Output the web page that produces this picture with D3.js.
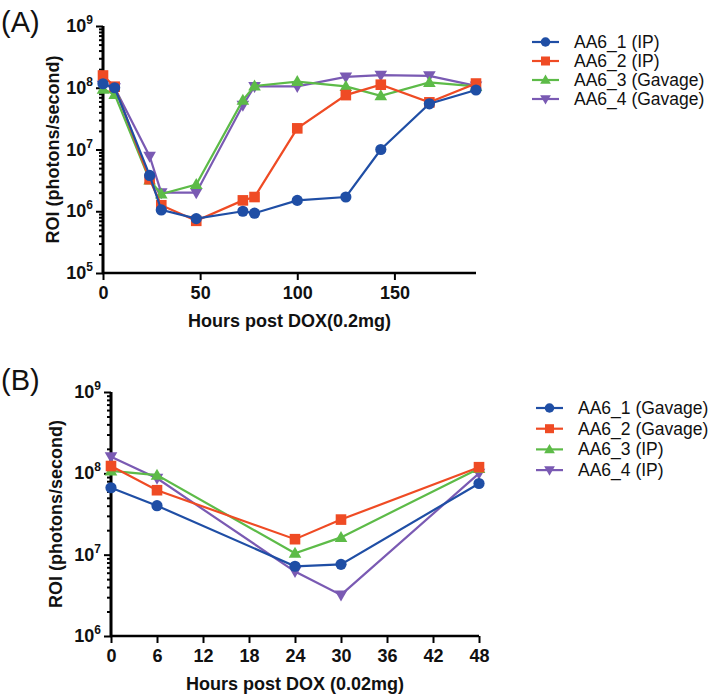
<!DOCTYPE html>
<html><head><meta charset="utf-8">
<script src="https://cdn.jsdelivr.net/npm/d3@7"></script>
<style>body{margin:0;background:#fff}svg{display:block}text{font-family:"Liberation Sans",Arial,sans-serif}</style>
</head><body><svg id="c" width="709" height="697"></svg>
<script>
// ---------- data ----------
const hoursA = [0, 6, 24, 30, 48, 72, 78, 100, 125, 143, 168, 192];
const seriesNamesA = ["AA6_1 (IP)", "AA6_2 (IP)", "AA6_3 (Gavage)", "AA6_4 (Gavage)"];
const A1 = [1.16e8, 1.0e8, 3.8e6, 1.05e6, 7.6e5, 1.0e6, 9.3e5, 1.5e6, 1.7e6, 1.0e7, 5.5e7, 9.2e7];
const A2 = [1.58e8, 1.04e8, 3.3e6, 1.25e6, 7.0e5, 1.5e6, 1.7e6, 2.2e7, 7.6e7, 1.12e8, 5.8e7, 1.17e8];
const A3 = [9.5e7, 7.8e7, 3.2e6, 1.9e6, 2.7e6, 6.3e7, 1.07e8, 1.26e8, 1.05e8, 7.4e7, 1.22e8, 1.05e8];
const A4 = [1.1e8, 1.0e8, 7.8e6, 2.0e6, 2.0e6, 5.2e7, 1.05e8, 1.05e8, 1.5e8, 1.6e8, 1.56e8, 1.07e8];
const xTicksA = [0, 50, 100, 150];

const hoursB = [0, 6, 24, 30, 48];
const seriesNamesB = ["AA6_1 (Gavage)", "AA6_2 (Gavage)", "AA6_3 (IP)", "AA6_4 (IP)"];
const B1 = [6.65e7, 4.0e7, 7.2e6, 7.6e6, 7.5e7];
const B2 = [1.23e8, 6.2e7, 1.55e7, 2.7e7, 1.19e8];
const B3 = [1.07e8, 9.5e7, 1.04e7, 1.63e7, 1.15e8];
const B4 = [1.6e8, 8.7e7, 6.2e6, 3.2e6, 1.0e8];
const xTicksB = [0, 6, 12, 18, 24, 30, 36, 42, 48];

const colors = ["#1f4ea5", "#ef4b24", "#5dbb48", "#7a5ab3"];
const shapes = ["circle", "square", "up", "down"];

// ---------- helpers ----------
const svg = d3.select("#c");

function marker(g, shape, color) {
  if (shape === "circle") g.append("circle").attr("r", 5.6).attr("fill", color);
  else if (shape === "square") g.append("rect").attr("x", -5.3).attr("y", -5.3).attr("width", 10.6).attr("height", 10.6).attr("fill", color);
  else if (shape === "up") g.append("path").attr("d", "M0,-6.5L6.3,4.5L-6.3,4.5Z").attr("fill", color);
  else g.append("path").attr("d", "M0,6.5L6.3,-4.5L-6.3,-4.5Z").attr("fill", color);
}

function panel(cfg) {
  const x = d3.scaleLinear().domain(cfg.xDomain).range([cfg.x0, cfg.x1]);
  const y = d3.scaleLog().domain(cfg.yDomain).range([cfg.yBottom, cfg.yTop]);
  const g = svg.append("g");

  // minor y ticks
  const lo = Math.round(Math.log10(cfg.yDomain[0])), hi = Math.round(Math.log10(cfg.yDomain[1]));
  const majors = d3.range(lo, hi + 1).map(e => Math.pow(10, e));
  const minors = [];
  for (let e = lo; e < hi; e++) for (let k = 2; k <= 9; k++) minors.push(k * Math.pow(10, e));

  const yMinor = g.append("g").attr("transform", `translate(${cfg.x0},0)`)
    .call(d3.axisLeft(y).tickValues(minors).tickSize(4).tickFormat(""));
  const yMajor = g.append("g").attr("transform", `translate(${cfg.x0},0)`)
    .call(d3.axisLeft(y).tickValues(majors).tickSize(7).tickFormat(""));
  [yMinor, yMajor].forEach(a => {
    a.select(".domain").attr("stroke", "#000").attr("stroke-width", 2.6).attr("d", `M0,${cfg.yBottom}V${cfg.yTop}`);
    a.selectAll(".tick line").attr("stroke", "#000").attr("stroke-width", 2);
  });
  // y labels with superscripts
  majors.forEach(v => {
    const t = g.append("text").attr("x", cfg.x0 - 10).attr("y", y(v) + 6)
      .attr("text-anchor", "end").attr("font-weight", "bold").attr("font-size", 18).attr("fill", "#111");
    t.append("tspan").text("10");
    t.append("tspan").attr("dy", -8).attr("font-size", 12).text(String(Math.round(Math.log10(v))));
  });

  // x axis
  const xa = g.append("g").attr("transform", `translate(0,${cfg.yBottom})`)
    .call(d3.axisBottom(x).tickValues(cfg.xTicks).tickSize(7).tickPadding(6));
  xa.select(".domain").attr("stroke", "#000").attr("stroke-width", 2.6).attr("d", `M${cfg.x0 - 1},0H${cfg.x1}`);
  xa.selectAll(".tick line").attr("stroke", "#000").attr("stroke-width", 2);
  xa.selectAll(".tick text").attr("font-size", 18).attr("font-weight", "bold").attr("fill", "#111")
    .attr("font-family", '"Liberation Sans",Arial,sans-serif');

  // titles
  g.append("text").attr("x", (cfg.x0 + cfg.x1) / 2).attr("y", cfg.xTitleY).attr("text-anchor", "middle")
    .attr("font-weight", "bold").attr("font-size", 18).attr("fill", "#111").text(cfg.xTitle);
  g.append("text").attr("transform", `translate(${cfg.yTitleX},${(cfg.yTop + cfg.yBottom) / 2}) rotate(-90)`)
    .attr("text-anchor", "middle").attr("font-weight", "bold").attr("font-size", 18).attr("fill", "#111").text("ROI (photons/second)");
  g.append("text").attr("x", 1).attr("y", cfg.labelY).attr("font-size", 29).attr("fill", "#111").text(cfg.label);

  // series (draw last series first so series 1 is on top)
  const line = d3.line().x(d => x(d[0])).y(d => y(d[1]));
  for (let i = cfg.series.length - 1; i >= 0; i--) {
    const pts = cfg.hours.map((h, j) => [h, cfg.series[i][j]]);
    g.append("path").attr("d", line(pts)).attr("fill", "none").attr("stroke", colors[i]).attr("stroke-width", 2.2);
    pts.forEach(p => marker(g.append("g").attr("transform", `translate(${x(p[0])},${y(p[1])})`), shapes[i], colors[i]));
  }

  // legend
  cfg.names.forEach((n, i) => {
    const ly = cfg.legY + i * cfg.legStep;
    g.append("line").attr("x1", cfg.legX).attr("x2", cfg.legX + 27).attr("y1", ly).attr("y2", ly)
      .attr("stroke", colors[i]).attr("stroke-width", 2.2);
    marker(g.append("g").attr("transform", `translate(${cfg.legX + 13.5},${ly}) scale(0.85)`), shapes[i], colors[i]);
    g.append("text").attr("x", cfg.legX + 42).attr("y", ly + 6).attr("font-size", 17.5).attr("fill", "#111").text(n);
  });
}

panel({
  xDomain: [0, 192], x0: 103, x1: 476, yDomain: [1e5, 1e9], yBottom: 273, yTop: 26,
  xTicks: xTicksA, hours: hoursA, series: [A1, A2, A3, A4], names: seriesNamesA,
  xTitle: "Hours post DOX(0.2mg)", xTitleY: 327, yTitleX: 59, label: "(A)", labelY: 32,
  legX: 532, legY: 42, legStep: 19
});
panel({
  xDomain: [0, 48], x0: 111, x1: 479, yDomain: [1e6, 1e9], yBottom: 636, yTop: 392,
  xTicks: xTicksB, hours: hoursB, series: [B1, B2, B3, B4], names: seriesNamesB,
  xTitle: "Hours post DOX (0.02mg)", xTitleY: 690, yTitleX: 62, label: "(B)", labelY: 390,
  legX: 536, legY: 408, legStep: 20.7
});
</script></body></html>
